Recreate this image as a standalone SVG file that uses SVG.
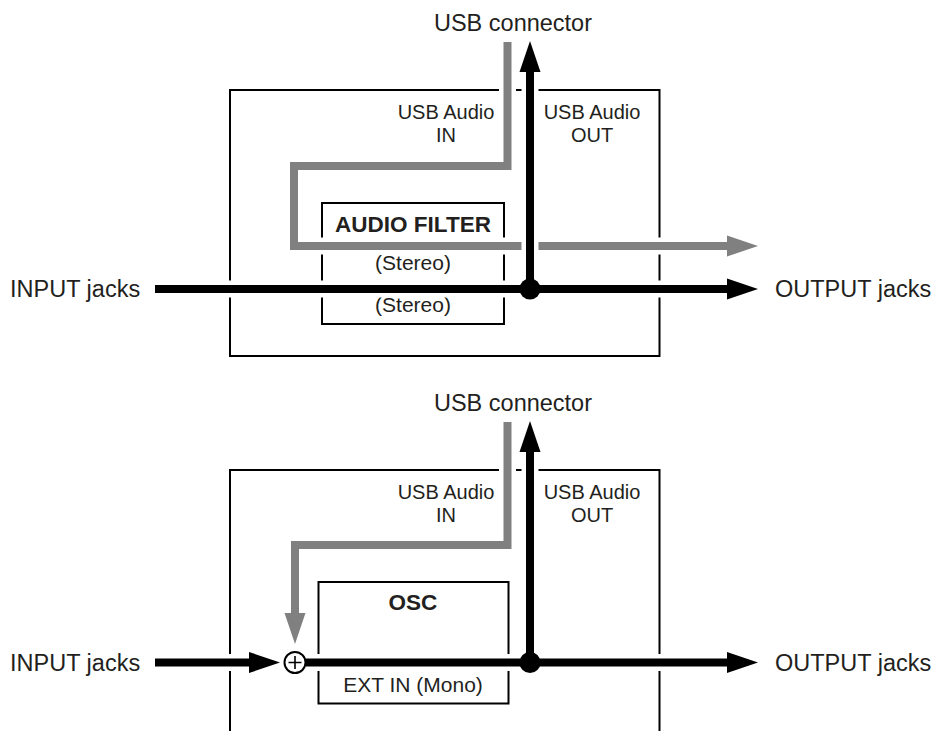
<svg xmlns="http://www.w3.org/2000/svg" width="934" height="731" viewBox="0 0 934 731">
  <style>
    .t { font-family: "Liberation Sans", Arial, sans-serif; fill: #231f20; }
    .big { font-size: 23.5px; }
    .lbl { font-size: 20px; text-anchor: middle; }
    .sm { font-size: 21px; text-anchor: middle; }
    .bold { font-size: 22.5px; font-weight: bold; text-anchor: middle; }
    .mid { text-anchor: middle; }
    .box { fill: none; stroke: #000; stroke-width: 2; }
    .halo { fill: none; stroke: #fff; stroke-width: 17; stroke-linejoin: miter; }
    .gray { fill: none; stroke: #808080; stroke-width: 8; stroke-linejoin: miter; }
    .blk { fill: none; stroke: #000; stroke-width: 8; }
    .dot { fill: #000; }
  </style>
  <defs>
    <marker id="ab" markerUnits="userSpaceOnUse" markerWidth="32" markerHeight="22" viewBox="0 0 32 22" refX="2" refY="11" orient="auto">
      <path d="M0,0.5 L31,11 L0,21.5 z" fill="#000"/>
    </marker>
    <marker id="ag" markerUnits="userSpaceOnUse" markerWidth="32" markerHeight="22" viewBox="0 0 32 22" refX="2" refY="11" orient="auto">
      <path d="M0,0.5 L31,11 L0,21.5 z" fill="#808080"/>
    </marker>
  </defs>

  <!-- Top panel -->
  <g id="top-unit">
    <rect class="box" x="230" y="90" width="429.5" height="266"/>
  </g>
  <g id="audio-filter">
    <rect class="box" x="322" y="203" width="182" height="121"/>
    <text class="t bold" x="413" y="231.5">AUDIO FILTER</text>
    <text class="t sm" x="413" y="269.5">(Stereo)</text>
    <text class="t sm" x="413" y="312">(Stereo)</text>
  </g>
  <g id="top-labels">
    <text class="t big mid" x="513" y="31">USB connector</text>
    <text class="t lbl" x="446" y="119">USB Audio</text>
    <text class="t lbl" x="446" y="141.5">IN</text>
    <text class="t lbl" x="592" y="119">USB Audio</text>
    <text class="t lbl" x="592" y="141.5">OUT</text>
    <text class="t big" x="10" y="297">INPUT jacks</text>
    <text class="t big" x="775" y="296.5">OUTPUT jacks</text>
  </g>

  <!-- Bottom panel -->
  <g id="bottom-unit">
    <path class="box" d="M230,740 V470 H659.5 V740"/>
  </g>
  <g id="osc">
    <rect class="box" x="318.5" y="582" width="190" height="121.5"/>
    <text class="t bold" x="413" y="609.5">OSC</text>
    <text class="t sm" x="413" y="691.5">EXT IN (Mono)</text>
  </g>
  <g id="bottom-labels">
    <text class="t big mid" x="513" y="411">USB connector</text>
    <text class="t lbl" x="446" y="499">USB Audio</text>
    <text class="t lbl" x="446" y="521.5">IN</text>
    <text class="t lbl" x="592" y="499">USB Audio</text>
    <text class="t lbl" x="592" y="521.5">OUT</text>
    <text class="t big" x="10" y="670.5">INPUT jacks</text>
    <text class="t big" x="775" y="670.5">OUTPUT jacks</text>
  </g>

  <g id="connectors">
    <!-- top panel -->
    <path class="halo" d="M507.5,42 V166 H294 V246 H727"/>
    <path class="gray" d="M507.5,42 V166 H294 V246 H729" marker-end="url(#ag)"/>
    <path class="halo" d="M530,289 V42"/>
    <path class="halo" d="M155,289 H727"/>
    <path class="blk" d="M530,289 V70" marker-end="url(#ab)"/>
    <path class="blk" d="M155,289 H729" marker-end="url(#ab)"/>
    <circle class="dot" cx="530" cy="289" r="10.5"/>

    <!-- bottom panel -->
    <path class="halo" d="M507.5,422 V545 H295 V616"/>
    <path class="gray" d="M507.5,422 V545 H295 V615" marker-end="url(#ag)"/>
    <path class="halo" d="M530,662 V422"/>
    <path class="halo" d="M155,662.5 H727"/>
    <path class="blk" d="M530,662 V450" marker-end="url(#ab)"/>
    <path class="blk" d="M155,662.5 H251" marker-end="url(#ab)"/>
    <path class="blk" d="M306,662.5 H729" marker-end="url(#ab)"/>
    <circle class="dot" cx="530" cy="662.5" r="10.5"/>
  </g>
  <g id="sum">
    <circle cx="295" cy="662.5" r="10.5" fill="#fff" stroke="#000" stroke-width="2"/>
    <path d="M288.5,662.5 H301.5 M295,656 V669" stroke="#000" stroke-width="1.6" fill="none"/>
  </g>
</svg>
